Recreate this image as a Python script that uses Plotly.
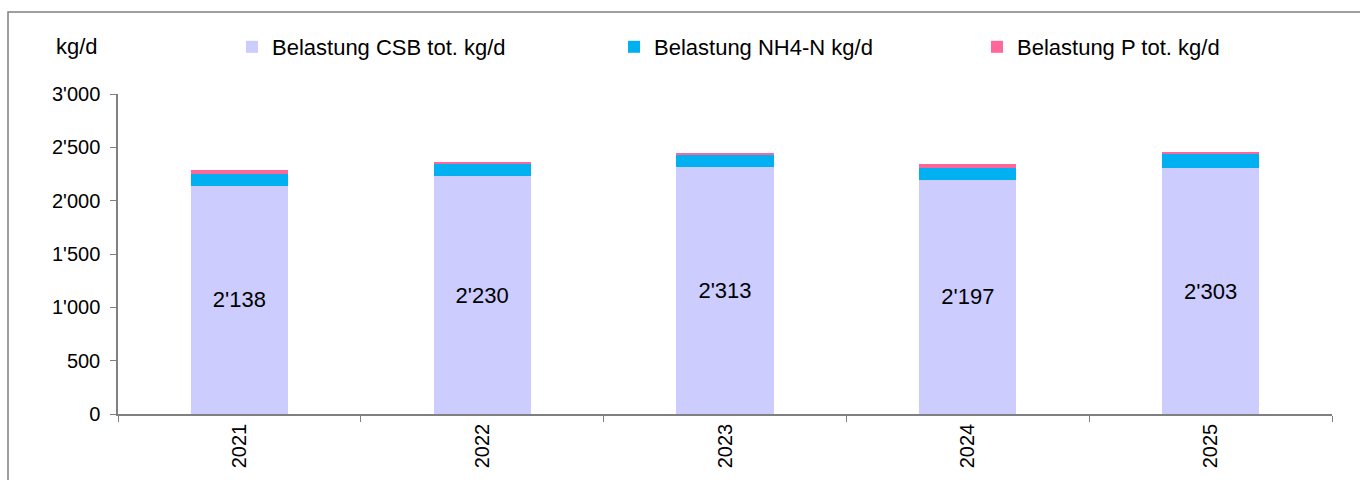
import plotly.graph_objects as go

years = ["2021", "2022", "2023", "2024", "2025"]
csb = [2138, 2230, 2313, 2197, 2303]
nh4 = [109, 112, 116, 109, 131]
ptot = [41, 22, 19, 40, 19]

names = ["Belastung CSB tot. kg/d", "Belastung NH4-N kg/d", "Belastung P tot. kg/d"]
colors = ["#CCCCFF", "#00B0F0", "#FF6699"]

FONT = "Liberation Sans, Arial, sans-serif"
fs = 20
fs_big = 22

fig = go.Figure()
fig.add_trace(go.Bar(
    x=years, y=csb, name=names[0], marker=dict(color=colors[0], line=dict(width=0)),
    texttemplate="%{y:,.0f}", textposition="inside", insidetextanchor="middle",
    textangle=0, textfont=dict(color="black", size=fs_big, family=FONT),
    legend="legend", showlegend=True,
))
fig.add_trace(go.Bar(
    x=years, y=nh4, name=names[1], marker=dict(color=colors[1], line=dict(width=0)),
    legend="legend2", showlegend=True,
))
fig.add_trace(go.Bar(
    x=years, y=ptot, name=names[2], marker=dict(color=colors[2], line=dict(width=0)),
    legend="legend3", showlegend=True,
))

L, R, T, B = 118, 28, 94, 66
W, H = 1360, 480
pw, ph = W - L - R, H - T - B

def px_x(x):
    return (x - L) / pw

def px_y(y):
    return (H - B - y) / ph

leg_common = dict(orientation="h", yanchor="middle", xanchor="left",
                  font=dict(size=fs_big, family=FONT, color="black"),
                  bgcolor="rgba(0,0,0,0)", borderwidth=0)

fig.update_layout(
    width=W, height=H,
    showlegend=True,
    barmode="stack", bargap=0.6,
    separators=".'",
    paper_bgcolor="white", plot_bgcolor="white",
    font=dict(family=FONT, size=fs, color="black"),
    margin=dict(l=L, r=R, t=T, b=B, autoexpand=False),
    legend=dict(x=px_x(232), y=px_y(47), **leg_common),
    legend2=dict(x=px_x(614), y=px_y(47), **leg_common),
    legend3=dict(x=px_x(977), y=px_y(47), **leg_common),
    xaxis=dict(
        type="category", tickson="boundaries", ticks="outside", ticklen=6,
        tickcolor="#808080", showline=True, linecolor="#808080", linewidth=1.5,
        tickangle=-90, showgrid=False, tickfont=dict(size=fs, family=FONT, color="black"),
    ),
    yaxis=dict(
        range=[0, 3000], dtick=500, tickformat=",d", ticks="outside", ticklen=6,
        tickcolor="#808080", showline=True, linecolor="#808080", linewidth=1.5,
        showgrid=False, zeroline=False, ticklabelstandoff=6,
        tickfont=dict(size=fs, family=FONT, color="black"),
    ),
    annotations=[dict(
        text="kg/d", xref="paper", yref="paper", x=px_x(54), y=px_y(47),
        xanchor="left", yanchor="middle", showarrow=False,
        font=dict(size=fs_big, family=FONT, color="black"),
    )],
    shapes=[dict(
        type="rect", xref="paper", yref="paper",
        x0=px_x(8), x1=px_x(1370), y0=px_y(12), y1=px_y(495),
        line=dict(color="#7f7f7f", width=1.5), fillcolor="rgba(0,0,0,0)", layer="below",
    )],
)

fig.write_html(
    "out.html",
    config={"displayModeBar": False},
    post_script="document.body.style.margin='0';document.body.style.overflow='hidden';",
)
